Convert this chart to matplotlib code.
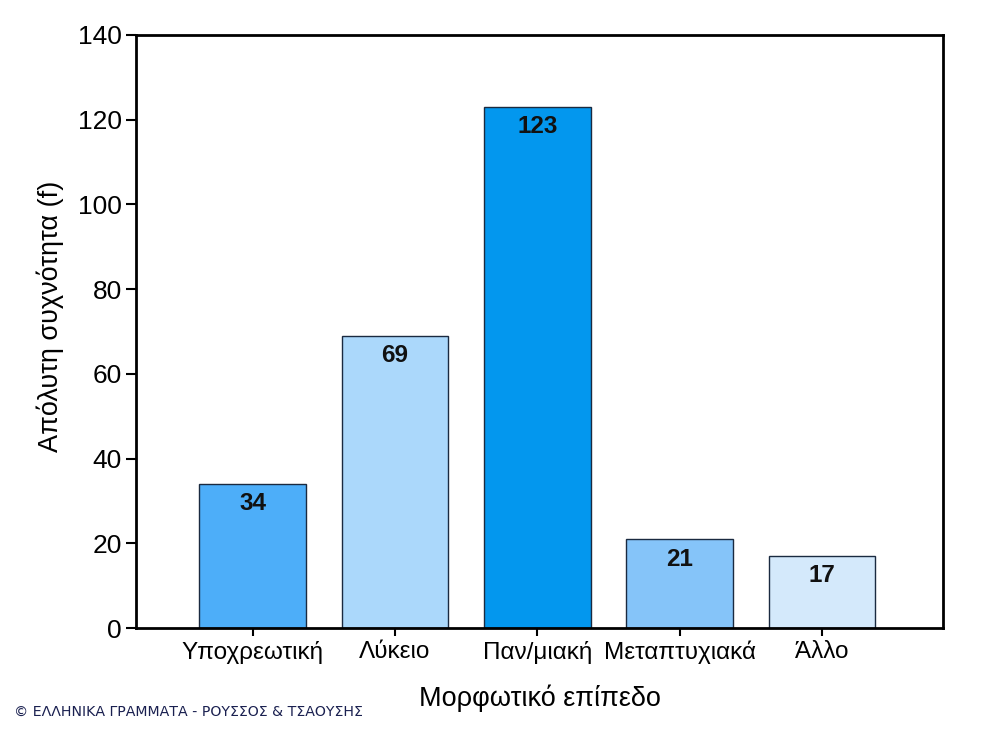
import matplotlib.pyplot as plt

plt.rcParams['font.family'] = ['Liberation Sans', 'DejaVu Sans']

# data
categories = ['Υποχρεωτική', 'Λύκειο', 'Παν/μιακή', 'Μεταπτυχιακά', 'Άλλο']
values = [34, 69, 123, 21, 17]
colors = ['#4daef9', '#abd8fb', '#0397ee', '#85c4f9', '#d4e9fb']
yticks = [0, 20, 40, 60, 80, 100, 120, 140]

fig = plt.figure(figsize=(9.84, 7.38), dpi=100)
ax = fig.add_axes([0.1382, 0.149, 0.8201, 0.8036])

x = range(len(categories))
ax.bar(x, values, width=0.75, color=colors, edgecolor='#1a2a40', linewidth=1.0)
for i, v in enumerate(values):
    ax.text(i, v - 2.0, str(v), ha='center', va='top', fontsize=17.5,
            fontweight='bold', color='#111111')

ax.set_xlim(-0.82, 4.85)
ax.set_ylim(0, 140)
ax.set_yticks(yticks)
ax.set_xticks(list(x))
ax.set_xticklabels(categories, fontsize=17.5)
ax.tick_params(axis='y', labelsize=19, length=7, width=1.5, direction='out', pad=3)
ax.tick_params(axis='x', length=6, width=1.5, direction='out', pad=3)
for s in ax.spines.values():
    s.set_linewidth(2)

ax.set_ylabel('Απόλυτη συχνότητα (f)', fontsize=19.5)
ax.yaxis.set_label_coords(-0.089, 0.525)
ax.set_xlabel('Μορφωτικό επίπεδο', fontsize=19.5, labelpad=15)

fig.text(0.014, 0.03, '© ΕΛΛΗΝΙΚΑ ΓΡΑΜΜΑΤΑ - ΡΟΥΣΣΟΣ & ΤΣΑΟΥΣΗΣ', fontsize=10.2,
         color='#1a2050', family=['DejaVu Sans'])

fig.savefig('out.png', dpi=100)
